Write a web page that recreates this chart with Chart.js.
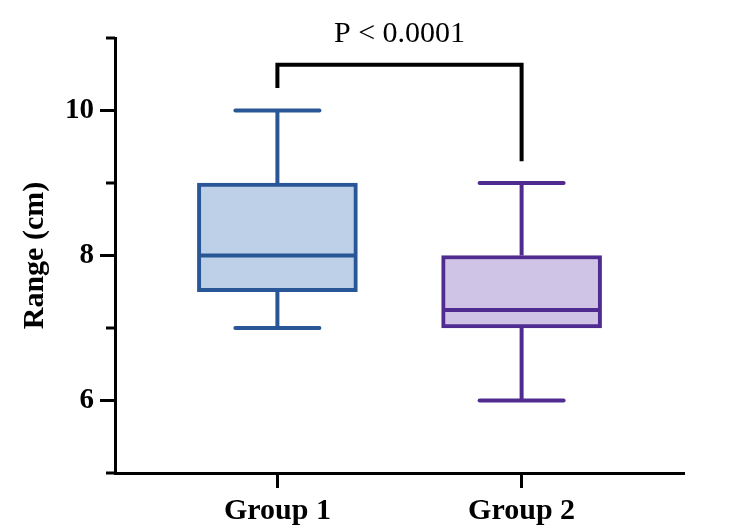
<!DOCTYPE html>
<html>
<head>
<meta charset="utf-8">
<script src="https://cdn.jsdelivr.net/npm/chart.js@4/dist/chart.umd.min.js"></script>
<style>
  html, body { margin: 0; padding: 0; background: #fff; }
  #wrap { width: 750px; height: 530px; position: relative; }
</style>
</head>
<body>
<div id="wrap"><canvas id="c"></canvas></div>
<script>
// ---- data ----
const categories = ['Group 1', 'Group 2'];
const whiskerMin = [7, 6];
const q1Values = [7.5, 7];
const medianValues = [8, 7.25];
const q3Values = [9, 8];
const whiskerMax = [10, 9];
const yTickValues = [5, 6, 7, 8, 9, 10, 11];
const yTickLabels = ['', '6', '', '8', '', '10', ''];
const pLabel = 'P < 0.0001';

const borderColors = ['#285696', '#502c91'];
const fillColors = ['#bed0e8', '#cfc4e6'];
const FONT = '"Liberation Serif", "Times New Roman", serif';

const boxPlugin = {
  id: 'boxExtras',
  afterDatasetsDraw(chart) {
    const ctx = chart.ctx;
    const xs = chart.scales.x, ys = chart.scales.y;
    ctx.save();
    ctx.lineCap = 'butt';
    categories.forEach((c, i) => {
      const cx = xs.getPixelForValue(i + 1);
      const half = 80;
      ctx.strokeStyle = borderColors[i];
      ctx.lineWidth = 4;
      // median
      const my = ys.getPixelForValue(medianValues[i]);
      ctx.beginPath(); ctx.moveTo(cx - half + 2, my); ctx.lineTo(cx + half - 2, my); ctx.stroke();
      // whiskers
      const yq3 = ys.getPixelForValue(q3Values[i]);
      const yq1 = ys.getPixelForValue(q1Values[i]);
      const ymax = ys.getPixelForValue(whiskerMax[i]);
      const ymin = ys.getPixelForValue(whiskerMin[i]);
      ctx.beginPath(); ctx.moveTo(cx, yq3); ctx.lineTo(cx, ymax); ctx.stroke();
      ctx.beginPath(); ctx.moveTo(cx, yq1); ctx.lineTo(cx, ymin); ctx.stroke();
      ctx.lineCap = 'round';
      ctx.beginPath(); ctx.moveTo(cx - 42, ymax); ctx.lineTo(cx + 42, ymax); ctx.stroke();
      ctx.beginPath(); ctx.moveTo(cx - 42, ymin); ctx.lineTo(cx + 42, ymin); ctx.stroke();
      ctx.lineCap = 'butt';
    });
    // significance bracket
    const x1 = xs.getPixelForValue(1), x2 = xs.getPixelForValue(2);
    const yTop = ys.getPixelForValue(10.63);
    const yL = ys.getPixelForValue(10.31);
    const yR = ys.getPixelForValue(9.3);
    ctx.strokeStyle = '#000';
    ctx.lineWidth = 4;
    ctx.lineJoin = 'miter';
    ctx.beginPath();
    ctx.moveTo(x1, yL); ctx.lineTo(x1, yTop); ctx.lineTo(x2, yTop); ctx.lineTo(x2, yR);
    ctx.stroke();
    ctx.fillStyle = '#000';
    ctx.font = '30px ' + FONT;
    ctx.textAlign = 'center';
    ctx.textBaseline = 'alphabetic';
    ctx.fillText(pLabel, xs.getPixelForValue(1.5), ys.getPixelForValue(10.94));
    // minor y ticks
    ctx.lineWidth = 3;
    ctx.lineCap = 'butt';
    yTickValues.forEach((v, i) => {
      if (yTickLabels[i] === '') {
        const y = ys.getPixelForValue(v);
        ctx.beginPath(); ctx.moveTo(xs.left - 9, y); ctx.lineTo(xs.left, y); ctx.stroke();
      }
    });
    ctx.restore();
  }
};

new Chart(document.getElementById('c'), {
  type: 'bar',
  data: {
    datasets: [{
      data: categories.map((c, i) => ({ x: i + 1, y: [q1Values[i], q3Values[i]] })),
      backgroundColor: fillColors,
      borderColor: borderColors,
      borderWidth: 4,
      borderSkipped: false,
      barThickness: 160
    }]
  },
  options: {
    responsive: true,
    maintainAspectRatio: false,
    animation: false,
    layout: { padding: { left: 0, right: 66, top: 38, bottom: 0 } },
    plugins: { legend: { display: false }, tooltip: { enabled: false } },
    scales: {
      x: {
        type: 'linear',
        offset: false,
        min: 0.335,
        max: 2.665,
        afterBuildTicks: (s) => { s.ticks = categories.map((c, i) => ({ value: i + 1 })); },
        afterFit: (s) => { s.height = 57; },
        ticks: {
          callback: (v) => categories[Math.round(v) - 1] || '',
          color: '#000',
          font: { family: FONT, size: 30, weight: 'bold' },
          padding: 5,
          maxRotation: 0,
          autoSkip: false
        },
        grid: { offset: false, drawOnChartArea: false, tickLength: 15, tickWidth: 3, tickColor: '#000' },
        border: { color: '#000', width: 3 }
      },
      y: {
        min: 5,
        max: 11,
        afterBuildTicks: (s) => { s.ticks = yTickValues.map(v => ({ value: v })); },
        afterFit: (s) => { s.width = 115; },
        ticks: {
          callback: (v) => { const i = yTickValues.indexOf(v); return i >= 0 ? yTickLabels[i] : ''; },
          color: '#000',
          font: { family: FONT, size: 29, weight: 'bold' },
          padding: 6
        },
        grid: {
          drawOnChartArea: false, tickLength: 15, tickWidth: 3,
          tickColor: (ctx) => { const i = yTickValues.indexOf(ctx.tick.value); return (i >= 0 && yTickLabels[i] !== '') ? '#000' : 'rgba(0,0,0,0)'; }
        },
        border: { color: '#000', width: 3 },
        title: {
          display: true,
          text: 'Range (cm)',
          color: '#000',
          font: { family: FONT, size: 30, weight: 'bold' },
          padding: { top: 17, bottom: 0 }
        }
      }
    }
  },
  plugins: [boxPlugin]
});
</script>
</body>
</html>
